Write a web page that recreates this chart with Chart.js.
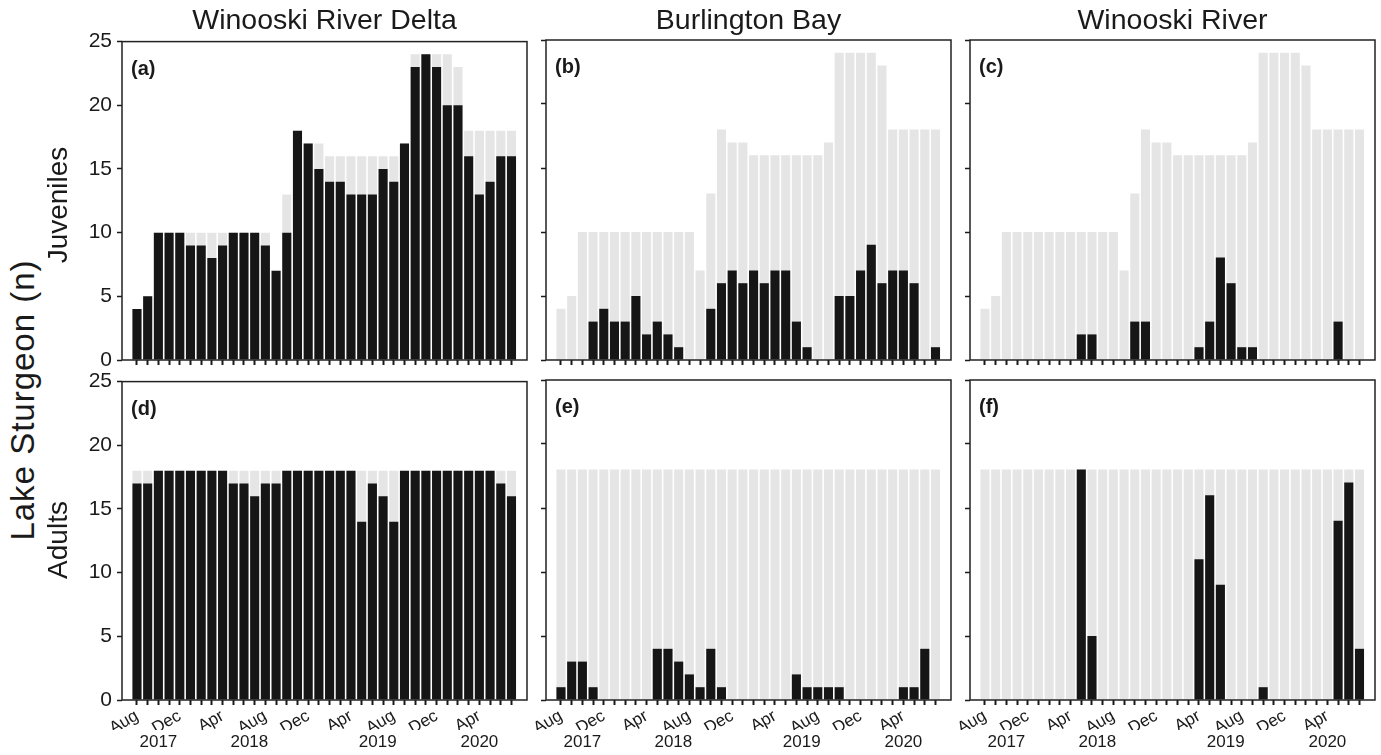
<!DOCTYPE html>
<html>
<head>
<meta charset="utf-8">
<script src="https://cdn.jsdelivr.net/npm/chart.js@4.4.1/dist/chart.umd.min.js"></script>
<style>
  html, body { margin: 0; padding: 0; background: #fff; overflow: hidden; }
  #fig { position: relative; width: 1381px; height: 755px; font-family: "Liberation Sans", Arial, sans-serif; color: #1a1a1a; }
  #fig canvas { position: absolute; }
  .lbl { position: absolute; white-space: nowrap; line-height: 1; }
  .vert { transform: translate(-50%, -50%) rotate(-90deg); }
</style>
</head>
<body>
<div id="fig"></div>
<script>
// monthly sampling periods, Aug 2017 - Jul 2020
const categories = [
  '2017-08', '2017-09', '2017-10', '2017-11', '2017-12',
  '2018-01', '2018-02', '2018-03', '2018-04', '2018-05', '2018-06', '2018-07', '2018-08', '2018-09', '2018-10', '2018-11', '2018-12',
  '2019-01', '2019-02', '2019-03', '2019-04', '2019-05', '2019-06', '2019-07', '2019-08', '2019-09', '2019-10', '2019-11', '2019-12',
  '2020-01', '2020-02', '2020-03', '2020-04', '2020-05', '2020-06', '2020-07'
];
const monthNames = ['Jan', 'Feb', 'Mar', 'Apr', 'May', 'Jun', 'Jul', 'Aug', 'Sep', 'Oct', 'Nov', 'Dec'];
const yTicks = [0, 5, 10, 15, 20, 25];

// tagged fish at large (grey bars)
const juvenileTotal = [4, 5, 10, 10, 10, 10, 10, 10, 10, 10, 10, 10, 10, 7, 13, 18, 17, 17, 16, 16, 16, 16, 16, 16, 16, 17, 24, 24, 24, 24, 23, 18, 18, 18, 18, 18];
const adultTotal = [18, 18, 18, 18, 18, 18, 18, 18, 18, 18, 18, 18, 18, 18, 18, 18, 18, 18, 18, 18, 18, 18, 18, 18, 18, 18, 18, 18, 18, 18, 18, 18, 18, 18, 18, 18];

// fish detected at each site (black bars)
const deltaJuveniles = [4, 5, 10, 10, 10, 9, 9, 8, 9, 10, 10, 10, 9, 7, 10, 18, 17, 15, 14, 14, 13, 13, 13, 15, 14, 17, 23, 24, 23, 20, 20, 16, 13, 14, 16, 16];
const bayJuveniles = [0, 0, 0, 3, 4, 3, 3, 5, 2, 3, 2, 1, 0, 0, 4, 6, 7, 6, 7, 6, 7, 7, 3, 1, 0, 0, 5, 5, 7, 9, 6, 7, 7, 6, 0, 1];
const riverJuveniles = [0, 0, 0, 0, 0, 0, 0, 0, 0, 2, 2, 0, 0, 0, 3, 3, 0, 0, 0, 0, 1, 3, 8, 6, 1, 1, 0, 0, 0, 0, 0, 0, 0, 3, 0, 0];
const deltaAdults = [17, 17, 18, 18, 18, 18, 18, 18, 18, 17, 17, 16, 17, 17, 18, 18, 18, 18, 18, 18, 18, 14, 17, 16, 14, 18, 18, 18, 18, 18, 18, 18, 18, 18, 17, 16];
const bayAdults = [1, 3, 3, 1, 0, 0, 0, 0, 0, 4, 4, 3, 2, 1, 4, 1, 0, 0, 0, 0, 0, 0, 2, 1, 1, 1, 1, 0, 0, 0, 0, 0, 1, 1, 4, 0];
const riverAdults = [0, 0, 0, 0, 0, 0, 0, 0, 0, 18, 5, 0, 0, 0, 0, 0, 0, 0, 0, 0, 11, 16, 9, 0, 0, 0, 1, 0, 0, 0, 0, 0, 0, 14, 17, 4];

const siteNames = ['Winooski River Delta', 'Burlington Bay', 'Winooski River'];
const rowNames = ['Juveniles', 'Adults'];

const panels = [
  { tag: '(a)', col: 0, row: 0, detected: deltaJuveniles, total: juvenileTotal },
  { tag: '(b)', col: 1, row: 0, detected: bayJuveniles, total: juvenileTotal },
  { tag: '(c)', col: 2, row: 0, detected: riverJuveniles, total: juvenileTotal },
  { tag: '(d)', col: 0, row: 1, detected: deltaAdults, total: adultTotal },
  { tag: '(e)', col: 1, row: 1, detected: bayAdults, total: adultTotal },
  { tag: '(f)', col: 2, row: 1, detected: riverAdults, total: adultTotal }
];

const FONT = '"Liberation Sans", Arial, sans-serif';
const INK = '#1a1a1a';
const colLeft = [122, 546, 970];
const rowTop = [40, 380];
const plotW = 405, plotH = 320;
const X_MIN = -1.4, X_MAX = 36.45;
const fig = document.getElementById('fig');

// year label positions = middle of each year's months
const yearCenters = [];
categories.forEach((c, i) => {
  const yr = c.slice(0, 4);
  let g = yearCenters.find(e => e.year === yr);
  if (!g) { g = { year: yr, idx: [] }; yearCenters.push(g); }
  g.idx.push(i);
});
yearCenters.forEach(g => { g.pos = (g.idx[0] + g.idx[g.idx.length - 1]) / 2; });

const framePlugin = {
  id: 'frame',
  afterDraw(chart, args, opts) {
    const a = chart.chartArea, ctx = chart.ctx;
    ctx.save();
    ctx.strokeStyle = '#222';
    ctx.lineWidth = 1.5;
    ctx.strokeRect(a.left, a.top, a.right - a.left, a.bottom - a.top);
    ctx.font = 'bold 20px ' + FONT;
    ctx.fillStyle = INK;
    ctx.textBaseline = 'alphabetic';
    ctx.fillText(opts.tag, a.left + 9, a.top + 33);
    ctx.restore();
  }
};

function addLabel(text, x, y, size, vertical, spacing) {
  const d = document.createElement('div');
  d.className = 'lbl' + (vertical ? ' vert' : '');
  d.textContent = text;
  d.style.fontSize = size + 'px';
  if (spacing) d.style.letterSpacing = spacing + 'px';
  if (vertical) {
    d.style.left = x + 'px';
    d.style.top = y + 'px';
  } else {
    d.style.left = (x - 300) + 'px';
    d.style.width = '600px';
    d.style.textAlign = 'center';
    d.style.top = y + 'px';
  }
  fig.appendChild(d);
}

function makePanel(p) {
  const bottomRow = p.row === 1;
  const AX = 62, PADT = 16, PADR = 4;
  const XH = bottomRow ? 30 : 20, YH = bottomRow ? 25 : 0;
  const w = AX + plotW + PADR, h = PADT + plotH + XH + YH;
  const cv = document.createElement('canvas');
  cv.width = w; cv.height = h;
  cv.style.width = w + 'px'; cv.style.height = h + 'px';
  cv.style.left = (colLeft[p.col] - AX) + 'px';
  cv.style.top = (rowTop[p.row] - PADT) + 'px';
  fig.appendChild(cv);

  const toXY = arr => arr.map((v, i) => ({ x: i, y: v }));

  new Chart(cv, {
    type: 'bar',
    data: {
      datasets: [
        { data: toXY(p.detected), backgroundColor: '#161616', order: 0 },
        { data: toXY(p.total), backgroundColor: '#e4e5e4', order: 1 }
      ]
    },
    options: {
      responsive: false,
      animation: false,
      devicePixelRatio: 1,
      layout: { padding: { left: 0, top: PADT, right: PADR, bottom: 0 } },
      datasets: { bar: { grouped: false, categoryPercentage: 1, barPercentage: 0.85, borderWidth: 0 } },
      plugins: { legend: { display: false }, tooltip: { enabled: false }, frame: { tag: p.tag } },
      scales: {
        x: {
          type: 'linear', position: 'bottom', min: X_MIN, max: X_MAX, offset: false,
          afterBuildTicks: s => { s.ticks = categories.map((c, i) => ({ value: i })); },
          afterFit: s => { s.height = XH; },
          grid: { offset: false, drawOnChartArea: false, drawTicks: true, tickLength: 5, tickWidth: 2, tickColor: INK },
          border: { display: false },
          ticks: {
            display: bottomRow, autoSkip: false, minRotation: 30, maxRotation: 30, padding: 1,
            color: INK, font: { family: FONT, size: 17 },
            callback: (v, i) => (i % 4 === 0 ? monthNames[parseInt(categories[i].slice(5), 10) - 1] : '')
          }
        },
        xYear: {
          type: 'linear', position: 'bottom', display: bottomRow, min: X_MIN, max: X_MAX, offset: false,
          afterBuildTicks: s => { s.ticks = yearCenters.map(g => ({ value: g.pos })); },
          afterFit: s => { s.height = YH; },
          grid: { offset: false, display: false, drawTicks: false },
          border: { display: false },
          ticks: {
            autoSkip: false, maxRotation: 0, padding: 2, color: INK, font: { family: FONT, size: 17 },
            callback: (v, i) => yearCenters[i].year
          }
        },
        y: {
          min: 0, max: 25,
          afterBuildTicks: s => { s.ticks = yTicks.map(v => ({ value: v })); },
          afterFit: s => { s.width = AX; },
          grid: { drawOnChartArea: false, drawTicks: true, tickLength: 5, tickWidth: 1.5, tickColor: INK },
          border: { display: false },
          ticks: { display: p.col === 0, padding: 5, color: INK, font: { family: FONT, size: 21 } }
        }
      }
    },
    plugins: [framePlugin]
  });
}

panels.forEach(makePanel);

siteNames.forEach((s, i) => addLabel(s, colLeft[i] + plotW / 2, 5, 28.5, false));
addLabel('Lake Sturgeon (n)', 22, 400, 33, true, 1);
rowNames.forEach((r, i) => addLabel(r, 58, rowTop[i] + plotH / 2 + (i === 0 ? 5 : 0), 28, true));
</script>
</body>
</html>
